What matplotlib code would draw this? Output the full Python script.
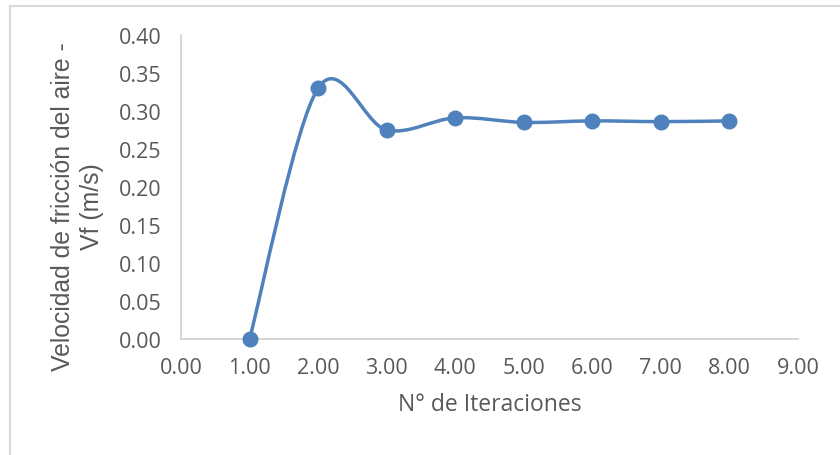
import matplotlib
matplotlib.use('Agg')
import matplotlib.pyplot as plt
from matplotlib.path import Path
from matplotlib.patches import PathPatch
from matplotlib.lines import Line2D
import numpy as np

plt.rcParams['font.family'] = ['Open Sans', 'DejaVu Sans']

# Iteration number vs friction velocity
iteraciones = [1, 2, 3, 4, 5, 6, 7, 8]
vf = [0.000, 0.330, 0.275, 0.291, 0.285, 0.287, 0.286, 0.287]

x_ticks = [0, 1, 2, 3, 4, 5, 6, 7, 8, 9]
y_ticks = [0.00, 0.05, 0.10, 0.15, 0.20, 0.25, 0.30, 0.35, 0.40]

LINE = '#4f81bd'
TEXT = '#595959'
AXIS = '#d0d0d0'


def smooth_path(xs, ys):
    """Catmull-Rom style smoothing expressed as cubic Bezier segments."""
    pts = np.column_stack([xs, ys]).astype(float)
    n = len(pts)
    verts = [pts[0]]
    codes = [Path.MOVETO]
    for i in range(n - 1):
        p0 = pts[i - 1] if i > 0 else pts[i]
        p1 = pts[i]
        p2 = pts[i + 1]
        p3 = pts[i + 2] if i + 2 < n else pts[i + 1]
        c1 = p1 + (p2 - p0) / 6.0
        c2 = p2 - (p3 - p1) / 6.0
        verts += [c1, c2, p2]
        codes += [Path.CURVE4] * 3
    return Path(verts, codes)


fig = plt.figure(figsize=(8.4, 4.56), dpi=100)
ax = fig.add_axes([181 / 840, 1 - 340 / 456, (798 - 181) / 840, (340 - 36) / 456])

curve = PathPatch(smooth_path(iteraciones, vf), facecolor='none', edgecolor=LINE,
                  linewidth=2.5, capstyle='round', joinstyle='round', zorder=2)
ax.add_patch(curve)
ax.plot(iteraciones, vf, linestyle='none', marker='o', markersize=10.5,
        color=LINE, clip_on=False, zorder=3)

ax.set_xlim(0, 9)
ax.set_ylim(0, 0.40)
ax.set_xticks(x_ticks)
ax.set_yticks(y_ticks)
ax.set_xticklabels([f'{v:.2f}' for v in x_ticks])
ax.set_yticklabels([f'{v:.2f}' for v in y_ticks])
ax.tick_params(length=0, labelsize=15.5, colors=TEXT)
ax.tick_params(axis='x', pad=13)
ax.tick_params(axis='y', pad=14)

for side in ['top', 'right']:
    ax.spines[side].set_visible(False)
for side in ['left', 'bottom']:
    ax.spines[side].set_color(AXIS)
    ax.spines[side].set_linewidth(1.2)

ax.set_xlabel('N° de Iteraciones', fontsize=16.5, color=TEXT, labelpad=10)
ax.set_ylabel('Velocidad de fricción del aire -\nVf (m/s)', fontsize=17.8,
              family=['Liberation Sans', 'DejaVu Sans'],
              color=TEXT, linespacing=1.25)
# title sits a little below the axis centre
ax.yaxis.set_label_coords(-0.125, 0.44)

# chart area border
fig.add_artist(Line2D([10 / 840, 10 / 840], [0, 1 - 7 / 456], color='#d9d9d9',
                      linewidth=1.5, transform=fig.transFigure))
fig.add_artist(Line2D([10 / 840, 1], [1 - 7 / 456, 1 - 7 / 456], color='#d9d9d9',
                      linewidth=1.5, transform=fig.transFigure))

fig.savefig('out.png', dpi=100, facecolor='white')
